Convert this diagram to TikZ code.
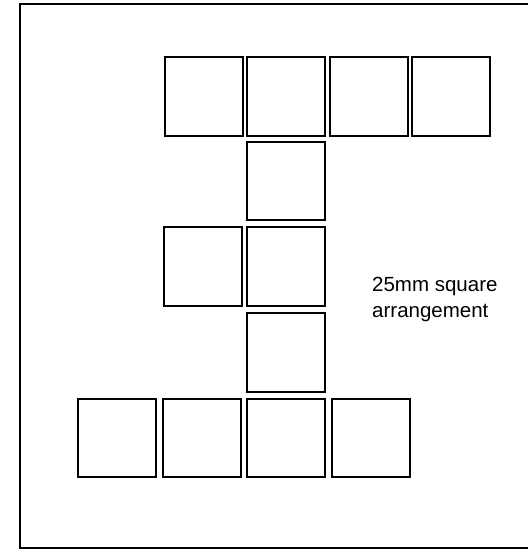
\documentclass[tikz,border=0pt]{standalone}
\usepackage{fontspec}
\setmainfont{Liberation Sans}
\tikzset{
  sq/.style={draw=black, line width=2.4pt, minimum width=78pt, minimum height=78.5pt, inner sep=0pt, outer sep=0pt},
  frame/.style={draw=black, line width=2pt},
  lbl/.style={align=left, inner sep=0pt, font=\fontsize{20.5}{26}\selectfont}
}
\begin{document}
\begin{tikzpicture}[x=1pt,y=-1pt]
\clip (0,0) rectangle (528,550);
\draw[frame] (19.5,4) rectangle (560,548);
% top row
\node[sq] (t1) at (204,96.5) {};
\node[sq] (t2) at (286,96.5) {};
\node[sq] (t3) at (369,96.5) {};
\node[sq] (t4) at (451,96.5) {};
% column
\node[sq] (c2) at (286,181) {};
\node[sq] (l3) at (203,266.5) {};
\node[sq] (c3) at (286,266.5) {};
\node[sq] (c4) at (286,352.5) {};
% bottom row
\node[sq] (b1) at (117,438) {};
\node[sq] (b2) at (202,438) {};
\node[sq] (b3) at (286,438) {};
\node[sq] (b4) at (371,438) {};
% label
\node[lbl, anchor=north west] (txt) at (372,277) {25mm square\\arrangement};
\end{tikzpicture}
\end{document}
